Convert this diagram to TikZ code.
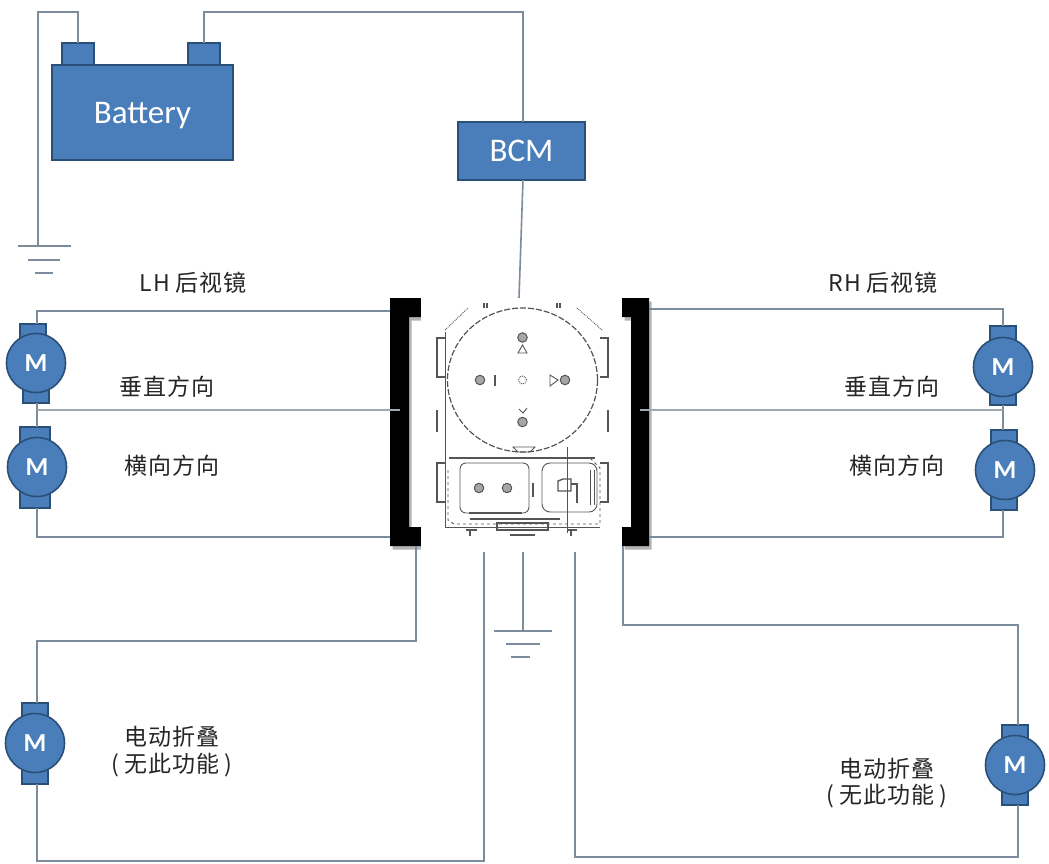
\documentclass[tikz,border=0pt]{standalone}
\usepackage{fontspec}
\setmainfont[LetterSpace=3]{Noto Sans CJK SC}
\newfontfamily\boxfont{Carlito}
\usepackage{xcolor}
\usetikzlibrary{shapes,arrows,positioning,calc,shadows}

\definecolor{bodyblue}{HTML}{4A7EBB}
\definecolor{edgeblue}{HTML}{2B5078}
\definecolor{wiregray}{HTML}{7C8C9C}
\definecolor{midgray}{HTML}{A0A8B0}
\definecolor{sketchgray}{HTML}{555555}

\tikzset{
  bluebox/.style={draw=edgeblue, line width=1.6pt, fill=bodyblue, rectangle, inner sep=0pt, outer sep=0pt},
  postbox/.style={bluebox, minimum width=32pt, minimum height=22pt},
  namebox/.style={bluebox, text=white, text depth=0pt, font=\boxfont\fontsize{33}{35}\selectfont, drop shadow={shadow xshift=1pt,shadow yshift=-1pt,opacity=0.3}},
  motorbody/.style={draw=edgeblue, line width=1.6pt, fill=bodyblue, circle, minimum size=59pt, inner sep=0pt, outer sep=0pt, text=white, text depth=0pt, font=\boxfont\bfseries\fontsize{26}{28}\selectfont},
  motorcap/.style={bluebox, minimum width=26pt, minimum height=18pt},
  wire/.style={draw=wiregray, line width=1.6pt},
  midwire/.style={draw=midgray, line width=2.4pt},
  earth/.style={draw=wiregray, line width=1.4pt},
  caption/.style={text=black!85, inner sep=0pt, font=\fontsize{23}{27}\selectfont},
  sketch/.style={draw=sketchgray, line width=0.9pt},
  sketchdash/.style={sketch, line width=1.2pt, dash pattern=on 6pt off 2pt},
  sketchdot/.style={draw=sketchgray, line width=1pt, fill=gray!70, circle, minimum size=9.5pt, inner sep=0pt},
  bracketblack/.style={fill=black, drop shadow={shadow xshift=2.5pt,shadow yshift=-3.5pt,opacity=0.6}}
}

\begin{document}
\begin{tikzpicture}[x=1pt,y=-1pt]
  \useasboundingbox (0,0) rectangle (1049,863);

  % battery and BCM
  \node[postbox] (battneg) at (78,54) {};
  \node[postbox] (battpos) at (204,54) {};
  \node[namebox, minimum width=181pt, minimum height=95pt] (battery) at (142.5,112.5) {Battery};
  \node[namebox, minimum width=127pt, minimum height=58pt] (bcm) at (521.5,151) {BCM};

  % connector
  \path[bracketblack] (390,298) -- (421,298) -- (421,317) -- (409,317) -- (409,527) -- (421,527) -- (421,546) -- (390,546) -- cycle;
  \path[bracketblack] (622,298) -- (649,298) -- (649,546) -- (622,546) -- (622,527) -- (631,527) -- (631,317) -- (622,317) -- cycle;
  \node[rectangle, fill=white, minimum width=201pt, minimum height=254pt, inner sep=0pt, outer sep=0pt] (panel) at (521.5,425) {};

  % switch sketch
  \draw[sketchdash] (522.5,380) ellipse (75pt and 72pt);
  \draw[sketch, densely dotted] (445,330) -- (468,308);
  \draw[sketch, densely dotted] (577,308) -- (602,330);
  \draw[sketch] (445,332) -- (445,527) -- (600,527);
  \draw[sketch, line width=1.2pt] (445,338) -- (437,338) -- (437,377) -- (445,377);
  \draw[sketch, line width=1.2pt] (600,338) -- (608,338) -- (608,377) -- (600,377);
  \draw[sketch, line width=1.2pt] (445,463) -- (437,463) -- (437,502) -- (445,502);
  \draw[sketch, line width=1.2pt] (600,463) -- (608,463) -- (608,502) -- (600,502);
  \draw[sketch, line width=1.2pt] (437,410) -- (437,432);
  \draw[sketch, line width=1.2pt] (608,410) -- (608,432);
  \draw[sketch, line width=1.2pt] (484,303) -- (484,308);
  \draw[sketch, line width=1.2pt] (487,303) -- (487,308);
  \draw[sketch, line width=1.2pt] (557,303) -- (557,308);
  \draw[sketch, line width=1.2pt] (560,303) -- (560,308);
  \node[sketchdot] (dotup) at (522.5,337.5) {};
  \node[sketchdot] (dotleft) at (480,380) {};
  \node[sketchdot] (dotright) at (565,380) {};
  \node[sketchdot] (dotdown) at (522.5,422) {};
  \node[sketchdot] (dotsetl) at (479,488) {};
  \node[sketchdot] (dotsetr) at (507,488) {};
  \draw[sketch, densely dotted] (522.5,380) circle (4pt);
  \draw[sketch] (518,353) -- (522.5,345) -- (527,353) -- cycle;
  \draw[sketch, line width=1.4pt] (495,375) -- (495,386);
  \draw[sketch] (550,375) -- (558,380) -- (550,386) -- cycle;
  \draw[sketch] (519,409) -- (523,413) -- (527,408);
  \draw[sketch] (513,447) -- (518,452) -- (530,452) -- (535,447) -- cycle;
  \draw[sketch, line width=1.2pt] (449,458) -- (595,458);
  \draw[sketch, dashed] (448,470) -- (448,520) -- (454,524) -- (600,524) -- (600,468) -- (590,458);
  \draw[sketch, rounded corners=6pt] (460,463) rectangle (529,513);
  \draw[sketch, rounded corners=8pt] (542,463) rectangle (597,512);
  \draw[sketch] (590,470) -- (590,505);
  \draw[sketch] (594,470) -- (594,505);
  \draw[sketch, line width=1.2pt] (469,513) -- (522,513);
  \draw[sketch, line width=1.2pt] (470,519) -- (560,519);
  \draw[sketch, line width=1.4pt] (533,483) -- (533,497);
  \draw[sketch] (567,447) -- (567,533);
  \draw[sketch, line width=1.4pt] (558,491) -- (558,481) -- (563,479) -- (571,479) -- (571,491) -- cycle;
  \draw[sketch, line width=1.4pt] (571,484) -- (577,484) -- (577,503);
  \draw[sketch, line width=1.4pt] (497,523) rectangle (548,530);
  \draw[sketch, line width=1.4pt] (466,530) -- (477,530);
  \draw[sketch, line width=1.4pt] (470,530) -- (470,536);
  \draw[sketch, line width=1.4pt] (567,530) -- (577,530);
  \draw[sketch, line width=1.4pt] (571,530) -- (571,536) ;
  \draw[sketch, line width=1.4pt] (510,535) -- (535,535);

  % motors
  \node[motorcap] (motorAtop) at (33,333) {};
  \node[motorcap] (motorAbot) at (36,394) {};
  \node[motorbody] (motorA) at (36,363) {M};
  \node[motorcap, minimum width=30pt, minimum height=20pt] (motorBtop) at (35,437) {};
  \node[motorcap, minimum width=30pt, minimum height=20pt] (motorBbot) at (35,498) {};
  \node[motorbody] (motorB) at (37,467) {M};
  \node[motorcap] (motorCtop) at (1003,335) {};
  \node[motorcap] (motorCbot) at (1003,396) {};
  \node[motorbody] (motorC) at (1003,367) {M};
  \node[motorcap] (motorDtop) at (1004,439) {};
  \node[motorcap] (motorDbot) at (1004,501) {};
  \node[motorbody] (motorD) at (1005,470) {M};
  \node[motorcap] (motorEtop) at (35,712) {};
  \node[motorcap] (motorEbot) at (35,775) {};
  \node[motorbody] (motorE) at (35,743) {M};
  \node[motorcap] (motorFtop) at (1015,734) {};
  \node[motorcap] (motorFbot) at (1015,796) {};
  \node[motorbody] (motorF) at (1015,765) {M};

  % free ends of the wires
  \coordinate (pinLa) at (390,311);
  \coordinate (pinLb) at (400,410);
  \coordinate (pinLc) at (390,537);
  \coordinate (pinRa) at (649,309);
  \coordinate (pinRb) at (640,410);
  \coordinate (pinRc) at (649,537);
  \coordinate (pinBa) at (416,546);
  \coordinate (pinBb) at (484,552);
  \coordinate (pinBc) at (523,552);
  \coordinate (pinBd) at (575,552);
  \coordinate (pinBe) at (623,546);
  \coordinate (pinTop) at (519,298);
  \coordinate (earthA) at (38,246);
  \coordinate (earthB) at (523,631);
  \coordinate (joinL) at (37,410);
  \coordinate (joinR) at (1003,410);

  \draw[wire] (battneg.north) -- ++(0,-31) -| (earthA);
  \draw[wire] (battpos.north) -- ++(0,-31) -| (bcm.north -| 523,0);
  \draw[wire] (bcm.south -| 523,0) -- (pinTop);

  \draw[wire] (pinLa) -| (motorAtop.north -| 37,0);
  \draw[wire] (motorAbot.south -| 37,0) -- (motorBtop.north -| 37,0);
  \draw[midwire] (pinLb) -- (joinL);
  \draw[wire] (motorBbot.south -| 37,0) |- (pinLc);

  \draw[wire] (pinRa) -| (motorCtop.north -| 1003,0);
  \draw[wire] (motorCbot.south -| 1003,0) -- (motorDtop.north -| 1003,0);
  \draw[midwire] (pinRb) -- (joinR);
  \draw[wire] (motorDbot.south -| 1003,0) |- (pinRc);

  \draw[wire] (pinBa) |- (37,641) -- (motorEtop.north -| 37,0);
  \draw[wire] (motorEbot.south -| 37,0) |- (484,861) -- (pinBb);
  \draw[wire] (pinBe) |- (1018,625) -- (motorFtop.north -| 1018,0);
  \draw[wire] (motorFbot.south -| 1018,0) |- (575,857) -- (pinBd);

  % grounds
  \draw[wire] (pinBc) -- (earthB);
  \draw[earth] (18,246) -- (71,246);
  \draw[earth] (28,260) -- (60,260);
  \draw[earth] (35,273) -- (53,273);
  \draw[earth] (494,631) -- (552,631);
  \draw[earth] (506,644) -- (540,644);
  \draw[earth] (511,657) -- (530,657);

  % labels
  \node[caption] (lhtitle) at (193,283) {LH 后视镜};
  \node[caption] (rhtitle) at (883,283) {RH 后视镜};
  \node[caption] (lhvert) at (167,387) {垂直方向};
  \node[caption] (lhhoriz) at (172,466) {横向方向};
  \node[caption] (rhvert) at (892,387) {垂直方向};
  \node[caption] (rhhoriz) at (897,466) {横向方向};
  \node[caption] (lhfold) at (172,737) {电动折叠};
  \node[caption] (lhnote) at (172,765) {( 无此功能 )};
  \node[caption] (rhfold) at (887,769) {电动折叠};
  \node[caption] (rhnote) at (887,796) {( 无此功能 )};
\end{tikzpicture}
\end{document}
